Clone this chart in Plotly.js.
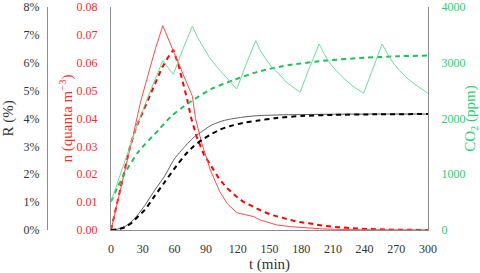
<!DOCTYPE html>
<html>
<head>
<meta charset="utf-8">
<script src="https://cdn.plot.ly/plotly-3.0.1.min.js"></script>
<style>html,body{margin:0;padding:0;background:#fff;}#chart{width:480px;height:273px;}</style>
</head>
<body>
<div id="chart"></div>
<script>
// x tick labels (min)
const xTicks = [0, 30, 60, 90, 120, 150, 180, 210, 240, 270, 300];

// n (quanta m^-3), solid
const tNSolid = [0, 7, 13, 21, 28, 35, 42, 49, 56, 63, 70, 77, 80, 86, 94, 103, 110, 119, 127, 135, 141, 150, 157, 170, 180, 200, 230, 260, 300];
const nSolid  = [0, 0.011, 0.021, 0.034, 0.046, 0.056, 0.065, 0.0733, 0.067, 0.0605, 0.054, 0.048, 0.040, 0.031, 0.0215, 0.0137, 0.0095, 0.0062, 0.0055, 0.0048, 0.0036, 0.0025, 0.0018, 0.0012, 0.0009, 0.0004, 0.0001, 0, 0];

// n (quanta m^-3), dashed
const tNDash = [0, 6, 13, 18, 24, 34, 41, 48, 54, 59, 64, 68, 72, 76, 81, 88, 95, 103, 110, 118, 125, 135, 144, 153, 163, 175, 187, 200, 215, 240, 270, 300];
const nDash  = [0, 0.010, 0.021, 0.030, 0.037, 0.046, 0.052, 0.058, 0.062, 0.0646, 0.059, 0.0535, 0.047, 0.040, 0.0335, 0.027, 0.0227, 0.018, 0.015, 0.0122, 0.0102, 0.0082, 0.0066, 0.0053, 0.0042, 0.0031, 0.0024, 0.0016, 0.0010, 0.0004, 0.0001, 0];

// CO2 (ppm), solid
const tCO2Solid = [0, 13, 26, 38, 49, 54, 59, 68, 77, 82, 87, 93, 100, 106, 113, 119, 128, 137, 141, 146, 153, 160, 166, 172, 179, 188, 197, 202, 207, 213, 220, 229, 239, 248, 256.5, 262, 267, 273, 280, 290, 300];
const co2Solid  = [508, 1250, 1950, 2530, 3037, 2910, 2793, 3240, 3659, 3450, 3288, 3100, 2929, 2800, 2660, 2529, 2980, 3396, 3229, 3080, 2900, 2780, 2650, 2560, 2470, 2920, 3336, 3150, 2995, 2860, 2726, 2580, 2452, 2900, 3336, 3150, 2995, 2860, 2726, 2580, 2452];

// CO2 (ppm), dashed
const tCO2Dash = [0, 6, 13, 26, 45, 57, 73, 95, 116, 141, 169, 204, 240, 270, 300];
const co2Dash  = [508, 760, 1017, 1405, 1794, 2040, 2273, 2530, 2690, 2850, 2960, 3040, 3090, 3115, 3130];

// R (%), solid
const tRSolid = [0, 6, 13, 20, 26, 32, 40, 51, 60, 70, 75, 80, 86, 94, 100, 106, 113, 125, 138, 160, 200, 250, 300];
const rSolid  = [0, 0.03, 0.12, 0.32, 0.58, 0.88, 1.35, 1.95, 2.55, 3.0, 3.2, 3.38, 3.53, 3.74, 3.84, 3.92, 3.98, 4.05, 4.1, 4.13, 4.15, 4.16, 4.16];

// R (%), dashed
const tRDash = [0, 6, 13, 20, 26, 32, 40, 51, 60, 70, 78, 86, 94, 103, 113, 125, 138, 157, 180, 210, 250, 300];
const rDash  = [0, 0.02, 0.1, 0.27, 0.5, 0.72, 1.15, 1.73, 2.2, 2.69, 3.0, 3.23, 3.42, 3.6, 3.73, 3.84, 3.92, 4.02, 4.09, 4.13, 4.15, 4.16];

const FONT = 'Liberation Serif';
const RED = '#ff2a2a';
const GREEN = '#2ecc71';
const AXIS = '#8c8c8c';
const TXT = '#333333';
const TICK = 12;
const TITLE = 15;

const traces = [
  {x: tRSolid, y: rSolid, yaxis: 'y2', mode: 'lines', line: {color: '#5a5a5a', width: 1, shape: 'spline', smoothing: 0.6}, hoverinfo: 'skip'},
  {x: tRDash, y: rDash, yaxis: 'y2', mode: 'lines', line: {color: '#000000', width: 2, dash: '5px,4px', shape: 'spline', smoothing: 0.6}, hoverinfo: 'skip'},
  {x: tCO2Dash, y: co2Dash, yaxis: 'y3', mode: 'lines', line: {color: '#1fbf5a', width: 2, dash: '5px,4px', shape: 'spline', smoothing: 0.6}, hoverinfo: 'skip'},
  {x: tCO2Solid, y: co2Solid, yaxis: 'y3', mode: 'lines', line: {color: '#6fdc98', width: 1}, hoverinfo: 'skip'},
  {x: tNDash, y: nDash, yaxis: 'y', mode: 'lines', line: {color: '#ff0000', width: 2, dash: '5px,4px'}, hoverinfo: 'skip'},
  {x: tNSolid, y: nSolid, yaxis: 'y', mode: 'lines', line: {color: '#ff4a4a', width: 1}, hoverinfo: 'skip'}
];

const common = {showgrid: false, zeroline: false, showline: true, linecolor: AXIS, linewidth: 1, ticks: '', fixedrange: true};

const layout = {
  width: 480, height: 273,
  margin: {l: 0, r: 0, t: 0, b: 0, pad: 0},
  paper_bgcolor: '#ffffff', plot_bgcolor: '#ffffff',
  showlegend: false,
  font: {family: FONT, size: TICK, color: TXT},
  xaxis: Object.assign({}, common, {
    domain: [111/480, 428/480], range: [0, 300], tickvals: xTicks, ticktext: xTicks.map(String),
    anchor: 'y', ticklabelstandoff: 8,
    tickfont: {family: FONT, size: TICK, color: TXT},
    title: {text: 't (min)', font: {family: FONT, size: TITLE, color: TXT}, standoff: 1}
  }),
  yaxis: Object.assign({}, common, {
    domain: [43/273, 266/273], range: [0, 0.08], dtick: 0.01, tickformat: '.2f',
    anchor: 'x', side: 'left', ticklabelstandoff: 10,
    tickfont: {family: FONT, size: TICK, color: RED},
    title: {text: 'n (quanta m<sup>−3</sup>)', font: {family: FONT, size: TITLE, color: RED}, standoff: 0}
  }),
  yaxis2: Object.assign({}, common, {
    overlaying: 'y', anchor: 'free', position: 47/480, side: 'left',
    range: [0, 8], dtick: 1, ticksuffix: '%', ticklabelstandoff: 5,
    tickfont: {family: FONT, size: TICK, color: TXT},
    title: {text: 'R (%)', font: {family: FONT, size: TITLE, color: TXT}, standoff: 6}
  }),
  yaxis3: Object.assign({}, common, {
    overlaying: 'y', anchor: 'x', side: 'right',
    range: [0, 4000], dtick: 1000, ticklabelstandoff: 10,
    tickfont: {family: FONT, size: TICK, color: GREEN},
    title: {text: 'CO<sub>2</sub> (ppm)', font: {family: FONT, size: TITLE, color: GREEN}, standoff: 5}
  })
};

Plotly.newPlot('chart', traces, layout, {staticPlot: true, displayModeBar: false});
</script>
</body>
</html>
